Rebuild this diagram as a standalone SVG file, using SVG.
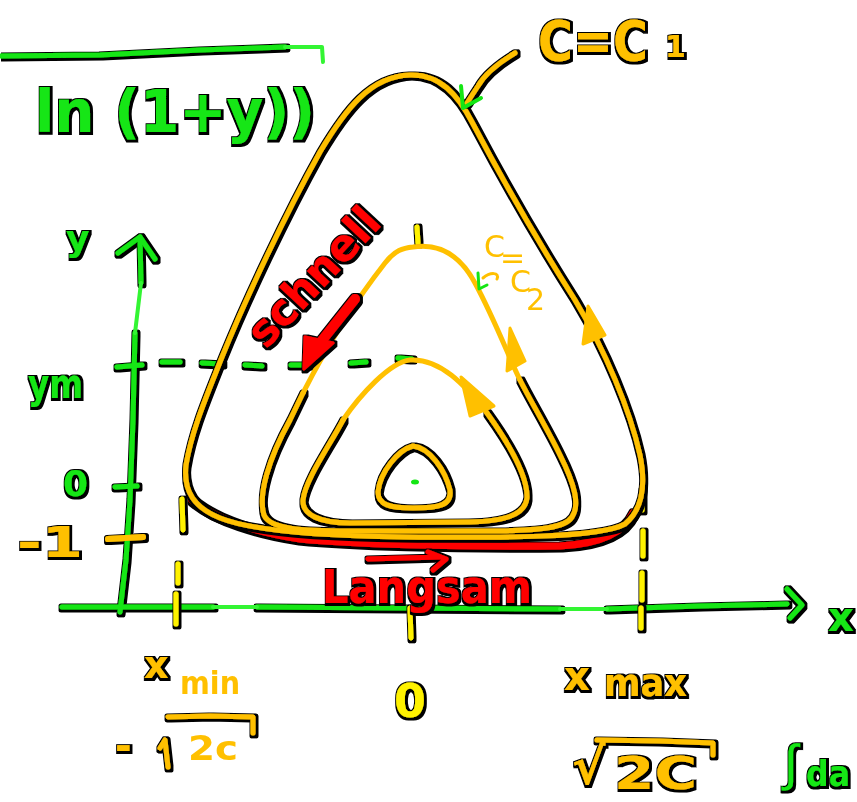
<svg xmlns="http://www.w3.org/2000/svg" width="857" height="802" viewBox="0 0 857 802">
<defs>
<filter id="ol" filterUnits="userSpaceOnUse" x="0" y="0" width="857" height="802">
<feMorphology in="SourceAlpha" operator="dilate" radius="1.6" result="d"/>
<feOffset in="d" dx="0.6" dy="0.6" result="d2"/>
<feFlood flood-color="#000"/>
<feComposite in2="d2" operator="in" result="o"/>
<feMerge><feMergeNode in="o"/><feMergeNode in="SourceGraphic"/></feMerge>
</filter>
<style>
.s{fill:none;stroke-linecap:round;stroke-linejoin:round}
.g{stroke:#14E614}
.lg{stroke:#33F533}
.o{stroke:#FFC000}
.y{stroke:#FFF200}
.r{stroke:#FF0000}
.ol{filter:url(#ol)}
.t{font-family:"DejaVu Sans","Liberation Sans",sans-serif;font-weight:bold}
.tg{fill:#14E614}
.to{fill:#FFC000}
.ty{fill:#FFF200}
.tr{fill:#FF0000}
.head{fill:#FFC000;stroke:#FFC000;stroke-width:3;stroke-linejoin:round}
</style>
</defs>
<rect width="857" height="802" fill="#fff"/>

<!-- top line and formula -->
<g id="title">
<path class="s g ol" stroke-width="5" d="M0,56 L100,55 L200,50 L285,47"/>
<path class="s lg" stroke-width="4" d="M285,47 L322,47 L323,62"/>
<text class="t tg ol" x="35" y="132" font-size="58" textLength="280" lengthAdjust="spacingAndGlyphs">ln (1+y))</text>
</g>

<!-- axes -->
<g id="axes">
<g class="ol">
<path class="s g" stroke-width="5" d="M62,607 L213,607 M257,607 L560,609 M607,609 L700,606 L787,604"/>
<path class="s g" stroke-width="5" d="M787,589 L802,605 L790,618"/>
<path class="s g" stroke-width="5" d="M120,612 L126,560 L130,500 L133,420 L135,333 M141,283 L140,237"/>
<path class="s g" stroke-width="5" d="M118,253 L140,237 L155,259"/>
<path class="s g" stroke-width="5" d="M117,367 L142,365 M115,487 L137,486"/>
<path class="s o" stroke-width="6" d="M108,539 L143,537"/>
</g>
<path class="s lg" stroke-width="4" d="M213,607 L257,607 M560,609 L607,609 M135,333 L141,283"/>
</g>

<!-- guide dashes -->
<g id="guides" class="ol">
<path class="s g" stroke-width="5" d="M162,362 L180,362 M202,363 L222,364 M245,365 L262,366 M291,365 L309,365 M351,363 L366,362 M398,358 L412,359"/>
<path class="s y" stroke-width="5" d="M182,499 L183,530 M178,564 L178,583 M176,594 L176,624 M642,490 L642,510 M643,531 L643,556 M642,573 L642,600 M641,608 L641,628 M410,608 L411,638 M417,227 L418,243"/>
</g>

<!-- slow segment -->
<g id="slow" class="ol">
<path class="s r" stroke-width="7" d="M192,500 C215,520 260,533 300,539 C350,544 450,547 560,546 C600,544 624,533 633,513"/>
</g>

<!-- orbits -->
<g id="orbits">
<g class="ol">
<path class="s o" stroke-width="5" d="M410,75 C440,74 458,95 472,122 C500,175 540,245 575,300 C605,350 630,410 640,455 C646,485 642,510 625,524 C600,538 500,538 403,537 C320,536 250,530 220,518 C195,508 183,492 186,465 C192,430 205,400 222,357 C245,300 285,215 320,152 C345,110 370,76 410,75 Z"/>
<path class="s o" stroke-width="5" d="M520,380 C530,400 548,430 560,455 C575,485 580,505 572,517 C565,528 540,530 500,531 L350,531 C300,531 270,529 264,515 C258,495 268,460 290,420 L303,393"/>
<path class="s o" stroke-width="5" d="M487,413 C505,438 528,475 527,498 C525,515 505,521 470,522 L350,523 C320,523 302,515 303,500 C305,480 330,445 343,420"/>
<path class="s o" stroke-width="5" d="M413,446 C430,448 445,470 450,490 C452,505 440,508 413,508 C390,508 378,505 378,492 C380,472 398,450 413,446 Z"/>
</g>
<path class="s o" stroke-width="5" d="M303,393 C330,340 360,295 385,263 C395,250 403,248 413,247 C440,243 460,255 475,283 C495,320 510,360 520,380"/>
<path class="s o" stroke-width="5" d="M343,420 C360,395 390,362 410,360 C440,358 465,385 487,413"/>
<polygon class="head" points="588,306 583,344 605,335"/>
<polygon class="head" points="510,328 507,371 525,361"/>
<polygon class="head" points="461,377 470,416 494,406"/>
<ellipse cx="415" cy="482" rx="4" ry="2.5" fill="#14E614"/>
</g>

<!-- pointers -->
<g id="pointers">
<path class="s o ol" stroke-width="5" d="M515,53 C500,62 486,72 478,86 L467,103"/>
<path class="s g" stroke-width="4" d="M461,86 L463,108 L481,98"/>
<path class="s o" stroke-width="3" d="M483,278 C490,272 500,272 497,279"/>
<path class="s g" stroke-width="3" d="M478,273 L479,289 L487,285"/>
<g class="ol">
<path class="s r" stroke-width="10" d="M355,299 L320,343"/>
<polygon points="305,337 333,343 304,369" fill="#FF0000" stroke="#FF0000" stroke-width="3" stroke-linejoin="round"/>
<path class="s r" stroke-width="5" d="M368,559 L440,557 M428,552 L446,559 L433,570"/>
</g>
</g>

<!-- labels -->
<g id="labels">
<g class="ol">
<text class="t to" x="538" y="60" font-size="55" textLength="110" lengthAdjust="spacingAndGlyphs">C=C</text>
<text class="t to" x="665" y="57" font-size="30">1</text>
<text class="t tr" transform="translate(266,350) rotate(-47)" font-size="44" textLength="172" lengthAdjust="spacingAndGlyphs">schnell</text>
<text class="t tr" x="322" y="603" font-size="46" textLength="210" lengthAdjust="spacingAndGlyphs">Langsam</text>
<text class="t tg" x="66" y="251" font-size="36">y</text>
<text class="t tg" x="28" y="398" font-size="40" textLength="55" lengthAdjust="spacingAndGlyphs">ym</text>
<text class="t tg" x="63" y="496" font-size="36">0</text>
<text class="t to" x="17" y="557" font-size="42" textLength="66" lengthAdjust="spacingAndGlyphs">-1</text>
<text class="t to" x="144" y="678" font-size="38">x</text>
<text class="t to" x="115" y="760" font-size="40">-</text>
<text class="t ty" x="394" y="717" font-size="46">0</text>
<text class="t to" x="564" y="690" font-size="40">x</text>
<text class="t to" x="604" y="696" font-size="38" textLength="83" lengthAdjust="spacingAndGlyphs">max</text>
<text class="t to" x="572" y="784" font-size="50">√</text>
<text class="t to" x="614" y="789" font-size="44" textLength="83" lengthAdjust="spacingAndGlyphs">2C</text>
<text x="784" y="780" fill="#14E614" font-family="Liberation Sans, sans-serif" font-size="50">∫</text>
<text class="t tg" x="806" y="786" font-size="36" textLength="44" lengthAdjust="spacingAndGlyphs">da</text>
<text class="t tg" x="828" y="631" font-size="40">x</text>
<path class="s o" stroke-width="5" d="M597,740 L660,741 L713,743 L713,755"/>
<path class="s o" stroke-width="5" d="M160,748 L165,740 L168,767 M168,717 L210,716 L253,717 L253,733"/>
</g>
<text font-family="DejaVu Sans, sans-serif" fill="#FFC000" font-size="32" font-weight="bold" x="180" y="694" textLength="60" lengthAdjust="spacingAndGlyphs">min</text>
<text font-family="DejaVu Sans, sans-serif" fill="#FFC000" font-size="34" font-weight="bold" x="188" y="760" textLength="50" lengthAdjust="spacingAndGlyphs">2c</text>
<text font-family="DejaVu Sans, sans-serif" fill="#FFC000" font-size="30" x="484 500 510 526" y="257 268 292 310">C=C2</text>
</g>
</svg>
